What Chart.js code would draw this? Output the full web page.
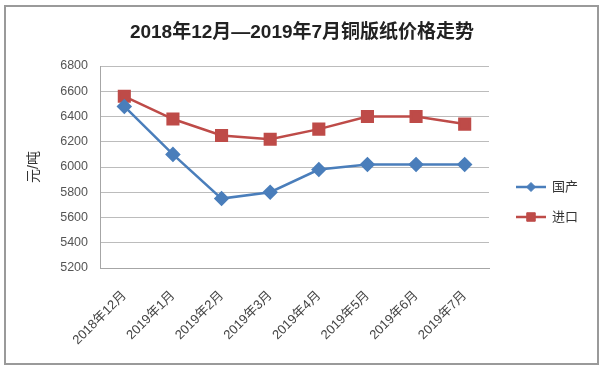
<!DOCTYPE html>
<html>
<head>
<meta charset="utf-8">
<script src="https://cdn.jsdelivr.net/npm/chart.js@4.4.0/dist/chart.umd.min.js"></script>
<style>
    body { margin: 0; background: #fff; }
    #wrap { width: 605px; height: 370px; }
</style>
</head>
<body>
<div id="wrap"><canvas id="price-chart"></canvas></div>
<script>
const months = ['2018年12月', '2019年1月', '2019年2月', '2019年3月', '2019年4月', '2019年5月', '2019年6月', '2019年7月'];
const domestic = [6480, 6100, 5750, 5800, 5980, 6020, 6020, 6020];
const imported = [6560, 6380, 6250, 6220, 6300, 6400, 6400, 6340];
const seriesNames = ['国产', '进口'];
const yRange = [5200, 6800, 200];
const chartTitle = '2018年12月—2019年7月铜版纸价格走势';

const BLUE = '#4A7EBB';
const RED = '#BE4B48';
const FONT = '"Liberation Sans", "Noto Sans CJK SC", sans-serif';

// white background, outer frame and the title centred on the whole picture
const framePlugin = {
    id: 'frame',
    beforeDraw(chart) {
        const ctx = chart.ctx;
        ctx.save();
        ctx.fillStyle = '#fff';
        ctx.fillRect(0, 0, chart.width, chart.height);
        ctx.strokeStyle = '#9a9a9a';
        ctx.lineWidth = 2;
        ctx.strokeRect(5, 6, 593, 358);
        ctx.fillStyle = '#222';
        ctx.font = 'bold 19px ' + FONT;
        ctx.textAlign = 'center';
        ctx.textBaseline = 'middle';
        ctx.fillText(chartTitle, 302, 33);
        ctx.restore();
    }
};

// legend drawn to the right: line + marker + label
const sideLegend = {
    id: 'sideLegend',
    afterDraw(chart) {
        const ctx = chart.ctx;
        ctx.save();
        chart.data.datasets.forEach((ds, i) => {
            const y = 187 + i * 30;
            ctx.strokeStyle = ds.borderColor;
            ctx.fillStyle = ds.backgroundColor;
            ctx.lineWidth = 2.5;
            ctx.beginPath();
            ctx.moveTo(516, y);
            ctx.lineTo(546, y);
            ctx.stroke();
            ctx.lineWidth = 1;
            Chart.helpers.drawPoint(ctx, {
                pointStyle: ds.pointStyle,
                radius: ds.pointRadius - 1.5,
                borderWidth: 1
            }, 531, y);
            ctx.fillStyle = '#333';
            ctx.font = '13px ' + FONT;
            ctx.textBaseline = 'middle';
            ctx.fillText(ds.label, 552, y);
        });
        ctx.restore();
    }
};

const ctx = document.getElementById('price-chart').getContext('2d');
new Chart(ctx, {
    type: 'line',
    data: {
        labels: months,
        datasets: [
            {
                label: seriesNames[0],
                data: domestic,
                borderColor: BLUE,
                backgroundColor: BLUE,
                borderWidth: 2.5,
                pointStyle: 'rectRot',
                pointRadius: 6,
                pointHoverRadius: 6,
                tension: 0
            },
            {
                label: seriesNames[1],
                data: imported,
                borderColor: RED,
                backgroundColor: RED,
                borderWidth: 2.5,
                pointStyle: 'rect',
                pointRadius: 7.5,
                pointHoverRadius: 7.5,
                tension: 0
            }
        ]
    },
    options: {
        responsive: true,
        maintainAspectRatio: false,
        animation: false,
        layout: {
            padding: { left: 26, right: 116, top: 66, bottom: 6 }
        },
        plugins: {
            legend: { display: false },
            tooltip: { enabled: false },
            title: { display: false }
        },
        scales: {
            x: {
                offset: true,
                grid: { display: false, drawTicks: false },
                border: { display: true, color: '#a6a6a6', width: 1 },
                ticks: {
                    color: '#444',
                    font: { family: FONT, size: 13 },
                    maxRotation: 45,
                    minRotation: 45,
                    padding: 20
                },
                afterFit(scale) { scale.height = 96; }
            },
            y: {
                min: yRange[0],
                max: yRange[1],
                grid: { color: '#bcbcbc', drawTicks: false },
                border: { display: true, color: '#a6a6a6', width: 1 },
                ticks: {
                    stepSize: yRange[2],
                    color: '#555',
                    font: { family: FONT, size: 12.5 },
                    padding: 12,
                    callback: v => String(v)
                },
                title: {
                    display: true,
                    text: '元/吨',
                    color: '#333',
                    font: { family: FONT, size: 14 },
                    padding: 0
                },
                afterFit(scale) { scale.width = 74; }
            }
        }
    },
    plugins: [framePlugin, sideLegend]
});
</script>
</body>
</html>
